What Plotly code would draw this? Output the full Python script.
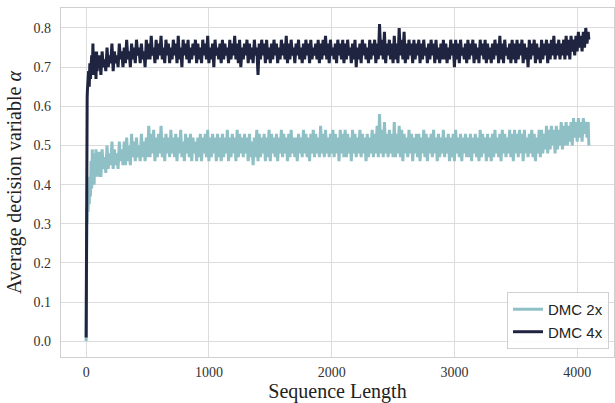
import plotly.graph_objects as go

# Sequence positions (x) at which values were read
steps = ([0, 1, 2, 4, 6, 8, 10, 15, 20, 25, 30, 35, 40, 45, 50, 55, 60, 65, 70, 75, 80, 85, 90, 95, 100]
         + list(range(110, 4091, 10)) + [4095])

dmc4x = [
    0.01, 0.30, 0.43, 0.52, 0.58, 0.62, 0.64, 0.66, 0.69, 0.65, 0.71, 0.67, 0.70, 0.73, 0.68, 0.76, 0.69, 0.74, 0.68, 0.73, 0.67, 0.74, 0.69, 0.72, 0.70,
    0.73, 0.68, 0.74, 0.70, 0.72, 0.69, 0.75, 0.70, 0.73, 0.71, 0.76, 0.69, 0.74, 0.71, 0.73, 0.70, 0.76, 0.72, 0.74, 0.70,
    0.75, 0.71, 0.77, 0.72, 0.74, 0.70, 0.76, 0.72, 0.75, 0.71, 0.77, 0.73, 0.75, 0.71, 0.76, 0.72, 0.74, 0.70, 0.77, 0.72,
    0.76, 0.72, 0.78, 0.73, 0.75, 0.71, 0.77, 0.72, 0.76, 0.73, 0.78, 0.72, 0.75, 0.71, 0.77, 0.73, 0.76, 0.71, 0.75, 0.72,
    0.77, 0.73, 0.76, 0.71, 0.78, 0.72, 0.75, 0.70, 0.77, 0.73, 0.76, 0.72, 0.77, 0.71, 0.75, 0.72, 0.76, 0.73, 0.77, 0.71,
    0.76, 0.72, 0.75, 0.71, 0.77, 0.73, 0.76, 0.72, 0.78, 0.71, 0.75, 0.72, 0.76, 0.70, 0.77, 0.73, 0.75, 0.72, 0.76, 0.71,
    0.77, 0.72, 0.76, 0.73, 0.75, 0.71, 0.77, 0.72, 0.76, 0.73, 0.78, 0.72, 0.76, 0.71, 0.77, 0.70, 0.75, 0.72, 0.76, 0.73,
    0.77, 0.71, 0.76, 0.72, 0.75, 0.71, 0.77, 0.73, 0.75, 0.68, 0.76, 0.72, 0.77, 0.73, 0.76, 0.71, 0.77, 0.72, 0.75, 0.71,
    0.76, 0.72, 0.77, 0.73, 0.76, 0.71, 0.75, 0.72, 0.77, 0.73, 0.76, 0.72, 0.78, 0.71, 0.76, 0.72, 0.77, 0.73, 0.75, 0.71,
    0.76, 0.73, 0.77, 0.72, 0.75, 0.71, 0.76, 0.72, 0.77, 0.73, 0.76, 0.71, 0.77, 0.72, 0.75, 0.73, 0.76, 0.72, 0.77, 0.71,
    0.76, 0.72, 0.77, 0.73, 0.78, 0.72, 0.76, 0.71, 0.77, 0.73, 0.75, 0.72, 0.76, 0.71, 0.77, 0.73, 0.76, 0.72, 0.77, 0.71,
    0.76, 0.72, 0.77, 0.73, 0.75, 0.71, 0.76, 0.72, 0.77, 0.70, 0.75, 0.72, 0.76, 0.71, 0.77, 0.73, 0.76, 0.72, 0.75, 0.71,
    0.77, 0.72, 0.76, 0.73, 0.77, 0.71, 0.76, 0.72, 0.81, 0.73, 0.77, 0.72, 0.79, 0.71, 0.76, 0.73, 0.77, 0.72, 0.76, 0.71,
    0.78, 0.72, 0.76, 0.71, 0.80, 0.73, 0.77, 0.72, 0.79, 0.71, 0.76, 0.72, 0.77, 0.73, 0.76, 0.71, 0.77, 0.72, 0.76, 0.73,
    0.77, 0.71, 0.76, 0.72, 0.77, 0.73, 0.75, 0.71, 0.76, 0.72, 0.77, 0.73, 0.76, 0.71, 0.77, 0.72, 0.75, 0.71, 0.76, 0.72,
    0.77, 0.72, 0.76, 0.71, 0.75, 0.72, 0.77, 0.73, 0.76, 0.70, 0.77, 0.72, 0.76, 0.71, 0.77, 0.73, 0.75, 0.72, 0.76, 0.71,
    0.77, 0.72, 0.76, 0.73, 0.77, 0.71, 0.76, 0.72, 0.75, 0.71, 0.77, 0.73, 0.76, 0.72, 0.77, 0.71, 0.76, 0.72, 0.75, 0.71,
    0.76, 0.72, 0.77, 0.73, 0.76, 0.71, 0.78, 0.72, 0.76, 0.71, 0.77, 0.73, 0.75, 0.72, 0.76, 0.71, 0.77, 0.72, 0.76, 0.71,
    0.77, 0.72, 0.76, 0.73, 0.77, 0.71, 0.76, 0.72, 0.75, 0.70, 0.77, 0.72, 0.76, 0.73, 0.77, 0.71, 0.76, 0.72, 0.75, 0.71,
    0.77, 0.72, 0.76, 0.73, 0.77, 0.71, 0.76, 0.72, 0.77, 0.73, 0.78, 0.72, 0.76, 0.73, 0.77, 0.72, 0.76, 0.73, 0.77, 0.72,
    0.78, 0.73, 0.77, 0.72, 0.78, 0.74, 0.77, 0.73, 0.78, 0.74, 0.79, 0.75, 0.78, 0.74, 0.79, 0.75, 0.80, 0.76, 0.79,
    0.77,
]

dmc2x = [
    0.00, 0.15, 0.26, 0.31, 0.34, 0.30, 0.36, 0.33, 0.38, 0.35, 0.42, 0.37, 0.46, 0.39, 0.49, 0.41, 0.47, 0.40, 0.48, 0.42, 0.49, 0.43, 0.47, 0.42, 0.48,
    0.48, 0.42, 0.49, 0.44, 0.47, 0.43, 0.50, 0.44, 0.48, 0.45, 0.51, 0.44, 0.49, 0.45, 0.48, 0.44, 0.51, 0.46, 0.49, 0.45,
    0.51, 0.45, 0.52, 0.46, 0.50, 0.45, 0.53, 0.47, 0.51, 0.46, 0.52, 0.47, 0.50, 0.46, 0.53, 0.47, 0.51, 0.46, 0.52, 0.47,
    0.55, 0.47, 0.53, 0.48, 0.54, 0.46, 0.52, 0.47, 0.53, 0.48, 0.55, 0.47, 0.52, 0.46, 0.53, 0.48, 0.52, 0.47, 0.54, 0.48,
    0.52, 0.47, 0.53, 0.46, 0.52, 0.48, 0.54, 0.47, 0.51, 0.46, 0.53, 0.48, 0.52, 0.47, 0.53, 0.46, 0.52, 0.48, 0.51, 0.46,
    0.52, 0.47, 0.53, 0.46, 0.52, 0.48, 0.53, 0.47, 0.54, 0.46, 0.52, 0.47, 0.53, 0.48, 0.52, 0.46, 0.53, 0.47, 0.52, 0.46,
    0.53, 0.47, 0.52, 0.48, 0.54, 0.46, 0.52, 0.47, 0.53, 0.48, 0.52, 0.46, 0.54, 0.47, 0.53, 0.48, 0.52, 0.47, 0.53, 0.48,
    0.52, 0.46, 0.53, 0.47, 0.51, 0.45, 0.52, 0.47, 0.54, 0.46, 0.53, 0.47, 0.52, 0.48, 0.53, 0.46, 0.52, 0.47, 0.54, 0.46,
    0.53, 0.48, 0.52, 0.47, 0.53, 0.46, 0.52, 0.48, 0.54, 0.47, 0.53, 0.48, 0.52, 0.46, 0.53, 0.47, 0.54, 0.48, 0.52, 0.47,
    0.52, 0.46, 0.53, 0.48, 0.52, 0.47, 0.54, 0.48, 0.53, 0.47, 0.52, 0.46, 0.53, 0.48, 0.54, 0.47, 0.53, 0.48, 0.52, 0.47,
    0.55, 0.48, 0.53, 0.47, 0.54, 0.48, 0.52, 0.47, 0.53, 0.48, 0.54, 0.47, 0.53, 0.48, 0.52, 0.46, 0.54, 0.48, 0.53, 0.47,
    0.54, 0.47, 0.53, 0.48, 0.52, 0.46, 0.54, 0.48, 0.53, 0.47, 0.52, 0.48, 0.54, 0.47, 0.53, 0.48, 0.52, 0.46, 0.53, 0.47,
    0.52, 0.48, 0.54, 0.47, 0.53, 0.48, 0.55, 0.47, 0.58, 0.48, 0.54, 0.47, 0.56, 0.48, 0.53, 0.47, 0.54, 0.48, 0.53, 0.47,
    0.56, 0.47, 0.53, 0.48, 0.55, 0.47, 0.54, 0.46, 0.53, 0.48, 0.52, 0.47, 0.54, 0.48, 0.53, 0.46, 0.52, 0.48, 0.53, 0.47,
    0.53, 0.46, 0.52, 0.48, 0.54, 0.47, 0.53, 0.46, 0.52, 0.48, 0.53, 0.47, 0.54, 0.48, 0.52, 0.46, 0.53, 0.47, 0.52, 0.48,
    0.54, 0.47, 0.52, 0.48, 0.53, 0.46, 0.52, 0.47, 0.53, 0.46, 0.54, 0.48, 0.52, 0.47, 0.53, 0.46, 0.52, 0.48, 0.53, 0.47,
    0.52, 0.47, 0.53, 0.46, 0.52, 0.48, 0.53, 0.47, 0.52, 0.46, 0.54, 0.47, 0.53, 0.48, 0.52, 0.46, 0.53, 0.47, 0.52, 0.46,
    0.53, 0.47, 0.54, 0.48, 0.52, 0.47, 0.53, 0.46, 0.54, 0.48, 0.53, 0.47, 0.52, 0.48, 0.54, 0.47, 0.53, 0.46, 0.54, 0.48,
    0.53, 0.47, 0.54, 0.48, 0.53, 0.46, 0.54, 0.48, 0.52, 0.47, 0.53, 0.48, 0.54, 0.47, 0.53, 0.46, 0.52, 0.48, 0.54, 0.47,
    0.54, 0.48, 0.53, 0.49, 0.55, 0.48, 0.54, 0.49, 0.55, 0.50, 0.54, 0.48, 0.55, 0.49, 0.54, 0.50, 0.56, 0.49, 0.55, 0.50,
    0.56, 0.50, 0.55, 0.51, 0.56, 0.50, 0.57, 0.52, 0.56, 0.51, 0.57, 0.52, 0.56, 0.51, 0.57, 0.53, 0.56, 0.52, 0.56,
    0.50,
]

x_ticks = [0, 1000, 2000, 3000, 4000]
y_ticks = [0.0, 0.1, 0.2, 0.3, 0.4, 0.5, 0.6, 0.7, 0.8]

LIGHT = "#8fc0c5"
DARK = "#1f2441"
SERIF = "Liberation Serif, Times New Roman, serif"

fig = go.Figure()
fig.add_trace(go.Scatter(x=steps, y=dmc2x, mode="lines", name="DMC 2x",
                         line=dict(color=LIGHT, width=3)))
fig.add_trace(go.Scatter(x=steps, y=dmc4x, mode="lines", name="DMC 4x",
                         line=dict(color=DARK, width=3)))

axis_common = dict(showgrid=True, gridcolor="#dcdcdc", gridwidth=1,
                   showline=True, linecolor="#d0d0d0", linewidth=1.2, mirror=True,
                   zeroline=False, ticks="", automargin=False,
                   tickfont=dict(family=SERIF, size=14, color="#333333"))

fig.update_xaxes(range=[-205, 4300], tickvals=x_ticks, ticktext=[str(v) for v in x_ticks],
                 ticklabelstandoff=2,
                 title=dict(text="Sequence Length", font=dict(family=SERIF, size=20, color="#222222"), standoff=7),
                 **axis_common)
fig.update_yaxes(range=[-0.04, 0.851], tickvals=y_ticks, ticktext=[f"{v:.1f}" for v in y_ticks],
                 ticklabelstandoff=6,
                 title=dict(text="Average decision variable <i>α</i>", font=dict(family=SERIF, size=20, color="#222222"), standoff=6),
                 **axis_common)

fig.update_layout(
    width=615, height=403,
    margin=dict(l=61, r=1, t=8, b=46),
    paper_bgcolor="white", plot_bgcolor="white",
    legend=dict(x=0.991, y=0.023, xanchor="right", yanchor="bottom",
                bgcolor="rgba(255,255,255,0.85)", bordercolor="#d0d0d0", borderwidth=1,
                font=dict(family="Liberation Sans, Arial, sans-serif", size=15, color="#222222"),
                tracegroupgap=0, itemwidth=30),
    showlegend=True,
)

fig.write_html("out.html")
